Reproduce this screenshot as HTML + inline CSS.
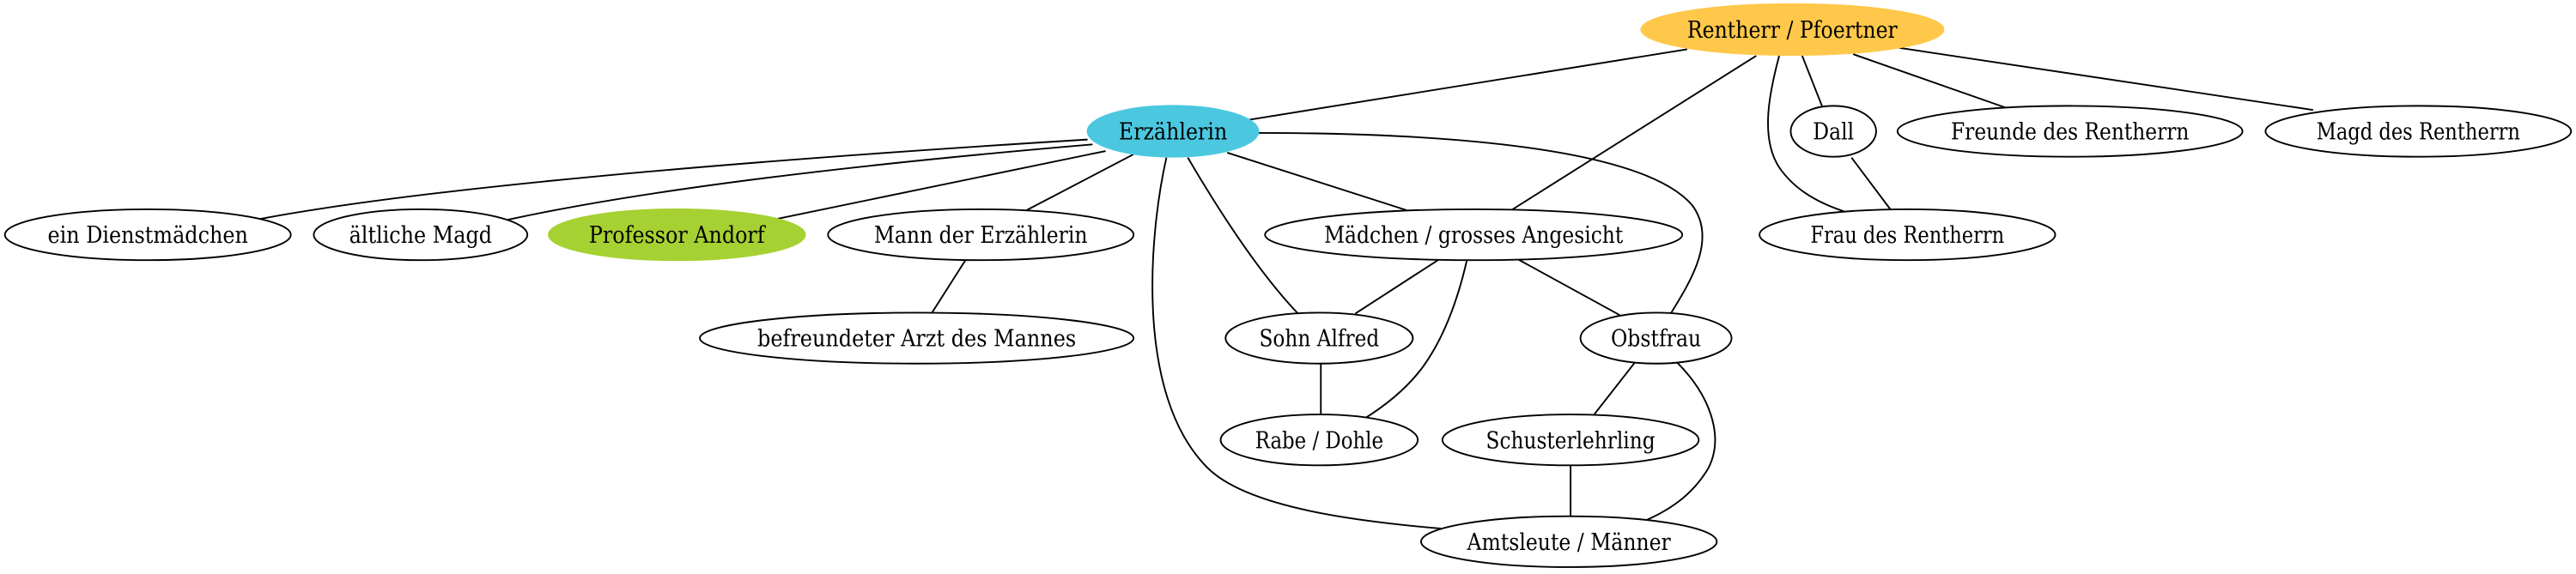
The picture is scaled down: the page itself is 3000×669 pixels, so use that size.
<!DOCTYPE html>
<html><head><meta charset="utf-8"><style>
html,body{margin:0;padding:0;background:#fff;width:3000px;height:669px;overflow:hidden}
svg{display:block}
text{font-family:"DejaVu Serif","Liberation Serif",serif;font-size:14px;fill:#000}
</style></head><body>
<svg width="3000" height="669" viewBox="0 0 1568 349.7" preserveAspectRatio="none" xmlns="http://www.w3.org/2000/svg">
<g fill="none" stroke="#000" stroke-width="1">
<path d="M1027,30 L760,73"/>
<path d="M1069,34 L920,128"/>
<path d="M1083,34 C1076,60 1072,85 1083,102 C1092,115 1105,123 1123,129"/>
<path d="M1097,34 L1110,67"/>
<path d="M1127,96 L1151,128"/>
<path d="M1128,33 L1222,66"/>
<path d="M1155,29 L1408,67"/>
<path d="M662,85 C450,98 250,115 150,135"/>
<path d="M665,88 C500,102 380,118 304,135"/>
<path d="M673,92 L465,135"/>
<path d="M690,94 L625,128"/>
<path d="M588,158 L567,191"/>
<path d="M747,93 L856,128"/>
<path d="M723,96 C740,125 765,165 791,192"/>
<path d="M710,96 C700,140 690,240 735,285 C760,310 830,318 877,322"/>
<path d="M766,81 C880,81 1000,90 1030,125 C1045,145 1030,170 1017,191"/>
<path d="M876,158 L825,191"/>
<path d="M893,158 C888,180 880,205 865,225 C855,238 842,248 829,256"/>
<path d="M924,158 L986,192"/>
<path d="M804,221 L804,253"/>
<path d="M995,221 L970,253"/>
<path d="M1021,221 C1040,240 1050,265 1040,285 C1030,302 1015,312 997,319"/>
<path d="M956,283 L956,315"/>
</g>
<g stroke="#000" stroke-width="1">
<ellipse cx="1091" cy="18" rx="92" ry="15.5" fill="#ffc84a" stroke="#ffc84a"/>
<ellipse cx="714" cy="80" rx="52" ry="15.5" fill="#4bc8e0" stroke="#4bc8e0"/>
<ellipse cx="90" cy="143" rx="87" ry="15.5" fill="#fff"/>
<ellipse cx="256" cy="143" rx="65" ry="15.5" fill="#fff"/>
<ellipse cx="412" cy="143" rx="78" ry="15.5" fill="#a6d132" stroke="#a6d132"/>
<ellipse cx="597" cy="143" rx="93" ry="15.5" fill="#fff"/>
<ellipse cx="558" cy="206" rx="132" ry="15.5" fill="#fff"/>
<ellipse cx="897" cy="143" rx="127" ry="15.5" fill="#fff"/>
<ellipse cx="803" cy="206" rx="57" ry="15.5" fill="#fff"/>
<ellipse cx="803" cy="268" rx="60" ry="15.5" fill="#fff"/>
<ellipse cx="1008" cy="206" rx="46" ry="15.5" fill="#fff"/>
<ellipse cx="956" cy="268" rx="78" ry="15.5" fill="#fff"/>
<ellipse cx="955" cy="330" rx="90" ry="15.5" fill="#fff"/>
<ellipse cx="1116" cy="80" rx="26" ry="15.5" fill="#fff"/>
<ellipse cx="1260" cy="80" rx="105" ry="15.5" fill="#fff"/>
<ellipse cx="1472" cy="80" rx="93" ry="15.5" fill="#fff"/>
<ellipse cx="1161" cy="143" rx="90" ry="15.5" fill="#fff"/>
</g>
<g text-anchor="middle" lengthAdjust="spacingAndGlyphs">
<text x="1091" y="23" textLength="128" lengthAdjust="spacingAndGlyphs">Rentherr / Pfoertner</text>
<text x="714" y="85" textLength="66" lengthAdjust="spacingAndGlyphs">Erzählerin</text>
<text x="90" y="148" textLength="122" lengthAdjust="spacingAndGlyphs">ein Dienstmädchen</text>
<text x="256" y="148" textLength="87" lengthAdjust="spacingAndGlyphs">ältliche Magd</text>
<text x="412" y="148" textLength="107" lengthAdjust="spacingAndGlyphs">Professor Andorf</text>
<text x="597" y="148" textLength="130" lengthAdjust="spacingAndGlyphs">Mann der Erzählerin</text>
<text x="558" y="211" textLength="194" lengthAdjust="spacingAndGlyphs">befreundeter Arzt des Mannes</text>
<text x="897" y="148" textLength="182" lengthAdjust="spacingAndGlyphs">Mädchen / grosses Angesicht</text>
<text x="803" y="211" textLength="73" lengthAdjust="spacingAndGlyphs">Sohn Alfred</text>
<text x="803" y="273" textLength="78" lengthAdjust="spacingAndGlyphs">Rabe / Dohle</text>
<text x="1008" y="211" textLength="55" lengthAdjust="spacingAndGlyphs">Obstfrau</text>
<text x="956" y="273" textLength="103" lengthAdjust="spacingAndGlyphs">Schusterlehrling</text>
<text x="955" y="335" textLength="124" lengthAdjust="spacingAndGlyphs">Amtsleute / Männer</text>
<text x="1116" y="85" textLength="25" lengthAdjust="spacingAndGlyphs">Dall</text>
<text x="1260" y="85" textLength="145" lengthAdjust="spacingAndGlyphs">Freunde des Rentherrn</text>
<text x="1472" y="85" textLength="124" lengthAdjust="spacingAndGlyphs">Magd des Rentherrn</text>
<text x="1161" y="148" textLength="118" lengthAdjust="spacingAndGlyphs">Frau des Rentherrn</text>
</g>
</svg>
</body></html>
